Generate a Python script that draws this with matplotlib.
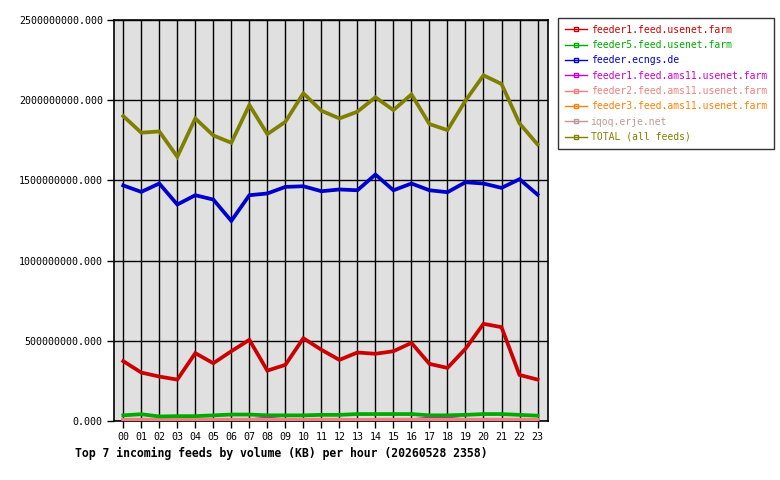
import numpy as np
import matplotlib
matplotlib.use('Agg')
import matplotlib.pyplot as plt
from matplotlib.lines import Line2D
from matplotlib.ticker import FuncFormatter

# hourly volumes (KB)
hours = list(range(24))
hour_labels = ['%02d' % h for h in hours]

feeder1_usenet = [0.373, 0.302, 0.277, 0.258, 0.423, 0.360, 0.435, 0.506,
                  0.314, 0.350, 0.516, 0.444, 0.381, 0.427, 0.419, 0.435,
                  0.487, 0.356, 0.331, 0.450, 0.606, 0.585, 0.287, 0.258]
feeder5_usenet = [0.035, 0.042, 0.028, 0.030, 0.030, 0.035, 0.040, 0.040,
                  0.035, 0.035, 0.035, 0.038, 0.038, 0.043, 0.043, 0.043,
                  0.043, 0.035, 0.035, 0.038, 0.043, 0.043, 0.038, 0.033]
feeder_ecngs = [1.469, 1.429, 1.481, 1.350, 1.408, 1.381, 1.248, 1.408,
                1.419, 1.460, 1.464, 1.433, 1.444, 1.439, 1.537, 1.439,
                1.481, 1.439, 1.427, 1.489, 1.481, 1.454, 1.508, 1.412]
feeder1_ams11 = [0.002, 0.002, 0.002, 0.002, 0.002, 0.002, 0.002, 0.004,
                 0.016, 0.004, 0.002, 0.002, 0.002, 0.002, 0.002, 0.002,
                 0.004, 0.016, 0.016, 0.004, 0.002, 0.002, 0.002, 0.002]
feeder2_ams11 = [0.008, 0.008, 0.008, 0.008, 0.008, 0.008, 0.008, 0.008,
                 0.008, 0.008, 0.008, 0.008, 0.008, 0.005, 0.008, 0.008,
                 0.008, 0.008, 0.008, 0.008, 0.008, 0.008, 0.008, 0.008]
feeder3_ams11 = [0.002] * 24
iqoq_erje = [0.009, 0.009, 0.009, 0.009, 0.009, 0.009, 0.009, 0.009,
             0.009, 0.009, 0.009, 0.009, 0.009, 0.009, 0.009, 0.009,
             0.009, 0.009, 0.009, 0.009, 0.009, 0.009, 0.009, 0.009]
total = [1.902, 1.798, 1.806, 1.648, 1.887, 1.781, 1.735, 1.971,
         1.789, 1.866, 2.044, 1.935, 1.887, 1.929, 2.019, 1.939,
         2.037, 1.852, 1.814, 1.998, 2.156, 2.102, 1.856, 1.725]

# name, values, colour, drawing order
feeds = [
    ('feeder1.feed.usenet.farm', feeder1_usenet, '#cc0000', 5),
    ('feeder5.feed.usenet.farm', feeder5_usenet, '#00aa00', 5),
    ('feeder.ecngs.de', feeder_ecngs, '#0000cc', 5),
    ('feeder1.feed.ams11.usenet.farm', feeder1_ams11, '#cc00cc', 3),
    ('feeder2.feed.ams11.usenet.farm', feeder2_ams11, '#f08080', 3.5),
    ('feeder3.feed.ams11.usenet.farm', feeder3_ams11, '#ff8000', 1),
    ('iqoq.erje.net', iqoq_erje, '#c09898', 2),
    ('TOTAL (all feeds)', total, '#808000', 6),
]

plt.rcParams['font.family'] = ['DejaVu Sans Mono']

fig = plt.figure(figsize=(7.8, 4.8), dpi=100)
ax = fig.add_axes([0.146, 0.123, 0.557, 0.835])
ax.set_facecolor('#e0e0e0')

handles = []
for name, vals, color, z in feeds:
    ax.plot(hours, np.array(vals) * 1e9, color=color, linewidth=2.7,
            solid_joinstyle='miter', zorder=z)
    handles.append(Line2D([], [], color=color, linewidth=1, marker='s',
                          markersize=3, markerfacecolor='none',
                          markeredgecolor=color))

ax.set_xlim(-0.52, 23.6)
ax.set_ylim(0, 2.5e9)
ax.set_xticks(hours)
ax.set_xticklabels(hour_labels)
ax.set_yticks(np.arange(0, 2.51e9, 0.5e9))
ax.yaxis.set_major_formatter(FuncFormatter(lambda v, p: '%.3f' % v))
ax.grid(True, color='black', linewidth=1)
ax.set_axisbelow(True)
for s in ax.spines.values():
    s.set_color('black')
    s.set_linewidth(1.2)
ax.tick_params(length=5, width=1, labelsize=7.2, pad=3)

fig.text(0.096, 0.048, 'Top 7 incoming feeds by volume (KB) per hour (20260528 2358)',
         fontsize=8.3, fontweight='bold')

leg = fig.legend(handles, [f[0] for f in feeds], loc='upper left',
                 bbox_to_anchor=(0.716, 0.963), fontsize=7.0, frameon=True,
                 fancybox=False, edgecolor='black', handlelength=2.2,
                 handletextpad=0.4, labelspacing=0.55, borderpad=0.7,
                 borderaxespad=0)
leg.get_frame().set_linewidth(1)
for txt, f in zip(leg.get_texts(), feeds):
    txt.set_color(f[2])

fig.savefig('out.png', dpi=100)
